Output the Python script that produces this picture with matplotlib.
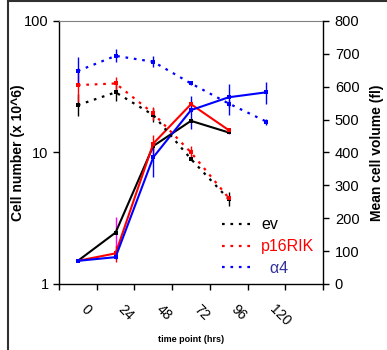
import numpy as np
import matplotlib
matplotlib.use('Agg')
import matplotlib.pyplot as plt
from matplotlib.lines import Line2D
from matplotlib.transforms import ScaledTranslation

plt.rcParams["font.family"] = "Liberation Sans"
plt.rcParams.update({'font.size': 10})

# time points (hrs)
categories = ['0', '24', '48', '72', '96', '120']

# cell number (x 10^6), left log axis
ev_num = [1.5, 2.46, 11.2, 17.4, 14.2]
ev_num_err = [0.03, 0.75, 0.9, 0.4, 0.3]
p16_num = [1.5, 1.71, 11.7, 23.3, 14.8]
p16_num_err = [0.03, 0.25, 1.9, 0.6, 0.3]
a4_num = [1.5, 1.60, 9.2, 21.0, 26.3, 28.7]
a4_num_err = [0.03, 0.06, 2.7, 6.0, 7.0, 5.5]

# mean cell volume (fl), right axis
ev_vol = [544, 583, 514, 380, 258]
ev_vol_err = [34, 27, 20, 4, 21]
p16_vol = [605, 610, 519, 400, 262]
p16_vol_err = [52, 20, 20, 19, 3]
a4_vol = [648, 694, 676, 610, 549, 494]
a4_vol_err = [42, 20, 17, 5, 10, 9]

RED = '#FF0000'
BLUE = '#0000FF'
BLK = '#000000'
MAG = '#FF00FF'

fig = plt.figure(figsize=(3.87, 3.5), dpi=100)
ax = fig.add_axes([0.1525, 0.1886, 0.682, 0.7514])
ax2 = ax.twinx()

def xs(vals):
    return np.arange(len(vals))

# solid lines: cell number
for vals, err, col, ecol in [(ev_num, ev_num_err, BLK, MAG),
                             (p16_num, p16_num_err, RED, RED),
                             (a4_num, a4_num_err, BLUE, BLUE)]:
    ax.errorbar(xs(vals), vals, yerr=err, color=col, ecolor=ecol, lw=1.5,
                elinewidth=1, capsize=2.8, capthick=1,
                marker='s', ms=2.2, mew=0)

# dotted lines: cell volume
dots = (0, (1.2, 2.6))
handles = []
for vals, err, col, lab in [(ev_vol, ev_vol_err, BLK, 'ev'),
                            (p16_vol, p16_vol_err, RED, 'p16RIK'),
                            (a4_vol, a4_vol_err, BLUE, '  \u03b14')]:
    ax2.errorbar(xs(vals), vals, yerr=err, color=col, ecolor=col, lw=1.6,
                 ls=dots, elinewidth=1, capsize=2.8, capthick=1,
                 marker='s', ms=2.2, mew=0)
    handles.append(Line2D([], [], color=col, lw=1.6, ls=dots, label=lab))

ax.set_yscale('log')
ax.set_ylim(1, 100)
ax.set_yticks([1, 10, 100])
ax.set_yticklabels(['1', '10', '100'])
ax.yaxis.set_minor_locator(matplotlib.ticker.NullLocator())
ax.set_xlim(-0.5, 6.5)

ax2.set_ylim(0, 800)
ax2.set_yticks(np.arange(0, 801, 100))

# category boundaries as major ticks, labels on minor ticks at centres
ax.set_xticks(np.arange(-0.5, 7, 1))
ax.set_xticklabels([])
ax.set_xticks(np.arange(len(categories)), minor=True)
ax.set_xticklabels(categories, minor=True)
ax.tick_params(axis='x', which='major', direction='out', length=4.5, width=1)
ax.tick_params(axis='x', which='minor', length=0, pad=16.5, labelsize=10)
off = ScaledTranslation(5 / 100, 0, fig.dpi_scale_trans)
for lab in ax.get_xticklabels(minor=True):
    lab.set_rotation(-45)
    lab.set_ha('left')
    lab.set_va('center')
    lab.set_rotation_mode('anchor')
    lab.set_transform(lab.get_transform() + off)

ax.tick_params(axis='y', direction='out', length=4.5, width=1, labelsize=10.5, pad=3)
ax2.tick_params(axis='y', direction='out', length=4.5, width=1, labelsize=10.5, pad=4)

for s in ['left', 'bottom']:
    ax.spines[s].set_color('#000000')
    ax.spines[s].set_linewidth(1)
ax.spines['top'].set_color('#808080')
ax.spines['top'].set_linewidth(0.8)
ax.spines['right'].set_visible(False)
for s in ['left', 'top', 'bottom']:
    ax2.spines[s].set_visible(False)
ax2.spines['right'].set_color('#000000')
ax2.spines['right'].set_linewidth(1)

ax.set_ylabel('Cell number (x 10^6)', fontweight='bold', fontsize=10)
ax.yaxis.set_label_coords(-0.129, 0.5)
ax2.set_ylabel('Mean cell volume (fl)', fontweight='bold', fontsize=10)
ax2.yaxis.set_label_coords(1.18, 0.5)
ax.set_xlabel('time point (hrs)', fontweight='bold', fontsize=6.5)
ax.xaxis.set_label_coords(0.5, -0.195)

leg = ax2.legend(handles=handles, loc='upper left', bbox_to_anchor=(0.617, 0.253),
                 frameon=False, fontsize=11.5, handlelength=2.0, handletextpad=0.45,
                 labelspacing=0.42, borderpad=0, borderaxespad=0)
for t, c in zip(leg.get_texts(), [BLK, RED, '#333399']):
    t.set_color(c)

# outer frame of the pasted chart
fig.add_artist(Line2D([8 / 387, 8 / 387], [0, 1 - 1 / 350], transform=fig.transFigure,
                      color='#303030', lw=1.5))
fig.add_artist(Line2D([8 / 387, 1], [1 - 1 / 350, 1 - 1 / 350], transform=fig.transFigure,
                      color='#303030', lw=1.5))

plt.savefig('out.png', dpi=100)
